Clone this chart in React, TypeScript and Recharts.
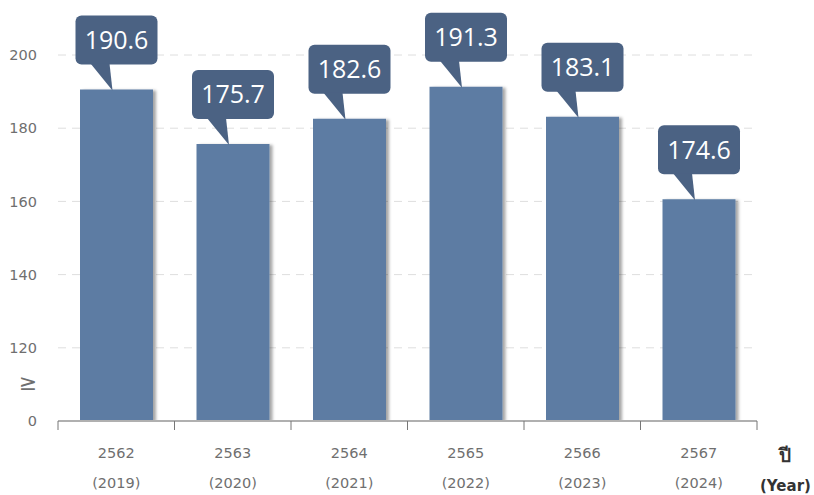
import React from "react";
import { BarChart, Bar, XAxis, YAxis, CartesianGrid, LabelList } from "recharts";

// Thai Buddhist year / Gregorian year
const thaiYears = ["2562", "2563", "2564", "2565", "2566", "2567"];
const ceYears = ["(2019)", "(2020)", "(2021)", "(2022)", "(2023)", "(2024)"];
// bar heights as drawn in the picture (the last bar sits lower than its label)
const barValues = [190.6, 175.7, 182.6, 191.3, 183.1, 160.6];
// values printed in the callouts
const labelValues = ["190.6", "175.7", "182.6", "191.3", "183.1", "174.6"];
const yTicks = [100, 120, 140, 160, 180, 200];

const data = thaiYears.map((y, i) => ({
  year: y,
  ce: ceYears[i],
  value: barValues[i],
  label: labelValues[i],
}));

const W = 814;
const H = 495;
const M = { top: 55, right: 57, bottom: 0, left: 8 };
const X_H = 74;
const Y_W = 50;
const HALF_BAND = (W - M.left - Y_W - M.right) / thaiYears.length / 2;

const BAR = "#5d7ca3";
const BUBBLE = "#4b6283";
const AXIS = "#b0b0b0";
const TEXT = "#6f6f6f";

const XTick = (props: any) => {
  const { x, y, index } = props;
  const last = index === thaiYears.length - 1;
  return (
    <g>
      <line x1={x - HALF_BAND} x2={x - HALF_BAND} y1={y - 8} y2={y + 1} stroke="#777" />
      {last && <line x1={x + HALF_BAND} x2={x + HALF_BAND} y1={y - 8} y2={y + 1} stroke="#777" />}
      <text x={x} y={y + 29} textAnchor="middle" fill={TEXT} fontSize={14.5} fontFamily="DejaVu Sans">
        {thaiYears[index]}
      </text>
      <text x={x} y={y + 59} textAnchor="middle" fill={TEXT} fontSize={14.5} fontFamily="DejaVu Sans">
        {ceYears[index]}
      </text>
    </g>
  );
};

const Callout = (props: any) => {
  const { x, y, width, index } = props;
  const tipX = x + width / 2 - 4;
  const tipY = y + 1;
  const boxBottom = tipY - 26;
  const boxH = 49;
  const boxW = 82;
  const boxL = tipX - 37;
  return (
    <g>
      <rect x={boxL} y={boxBottom - boxH} width={boxW} height={boxH} rx={6} fill={BUBBLE} />
      <polygon
        points={`${boxL + 15},${boxBottom - 1} ${boxL + 34},${boxBottom - 1} ${tipX},${tipY}`}
        fill={BUBBLE}
      />
      <text
        x={boxL + boxW / 2}
        y={boxBottom - boxH / 2 + 9}
        textAnchor="middle"
        fill="#fff"
        fontSize={25}
        fontFamily="Open Sans"
      >
        {labelValues[index]}
      </text>
    </g>
  );
};

export default function App() {
  return (
    <div style={{ position: "absolute", left: 0, top: 0, width: W, height: H, background: "#fff" }}>
      <svg width={0} height={0} style={{ position: "absolute" }}>
        <defs>
          <filter id="barShadow" x="-10%" y="-10%" width="130%" height="120%">
            <feDropShadow dx={3} dy={1} stdDeviation={1.5} floodColor="#000" floodOpacity={0.35} />
          </filter>
        </defs>
      </svg>
      <BarChart width={W} height={H} data={data} margin={M} barCategoryGap={22}>
        <CartesianGrid vertical={false} stroke="#dedede" strokeDasharray="8 6" />
        <XAxis
          dataKey="year"
          height={X_H}
          axisLine={{ stroke: AXIS, strokeWidth: 2 }}
          tickLine={false}
          tick={<XTick />}
          interval={0}
        />
        <YAxis
          type="number"
          domain={[100, 200]}
          ticks={yTicks}
          width={Y_W}
          axisLine={false}
          tickLine={false}
          tickMargin={15}
          tick={{ fill: TEXT, fontSize: 14.5, fontFamily: "DejaVu Sans" }}
          tickFormatter={(v: number) => (v === 100 ? "0" : String(v))}
          allowDataOverflow
        />
        <Bar dataKey="value" fill={BAR} isAnimationActive={false} filter="url(#barShadow)">
          <LabelList dataKey="label" content={<Callout />} />
        </Bar>
      </BarChart>
      <div
        style={{
          position: "absolute",
          left: 16,
          top: 370,
          width: 24,
          textAlign: "center",
          color: TEXT,
          fontSize: 22,
          fontFamily: "DejaVu Sans",
        }}
      >
        ≥
      </div>
      <div
        style={{
          position: "absolute",
          left: 760,
          top: 440,
          width: 50,
          textAlign: "center",
          color: "#333",
          fontSize: 15,
          fontWeight: "bold",
          fontFamily: "DejaVu Sans",
          lineHeight: "31px",
        }}
      >
        <div style={{ fontSize: 19 }}>ปี</div>
        <div>(Year)</div>
      </div>
    </div>
  );
}
